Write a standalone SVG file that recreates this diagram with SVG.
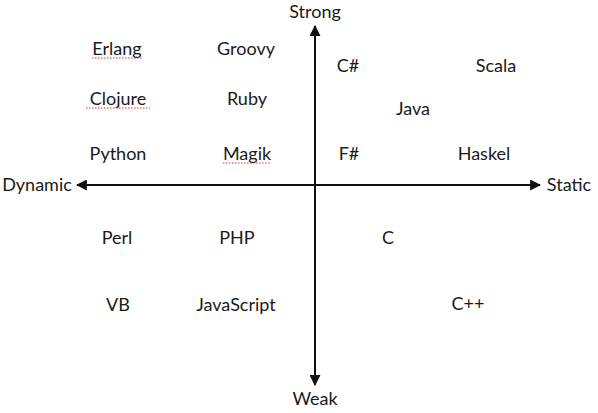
<svg xmlns="http://www.w3.org/2000/svg" width="598" height="413" viewBox="0 0 598 413">
  <style>
    text { font-family: "Lato", "Open Sans", sans-serif; font-size: 18px; fill: #1a1a1a; text-anchor: middle; }
    .axis { stroke: #111; stroke-width: 2; fill: none; }
    .spell { stroke: #e03030; stroke-width: 1.2; stroke-dasharray: 1.5 1.5; fill: none; }
  </style>
  <defs>
    <marker id="arrow" viewBox="0 0 10 10" refX="9" refY="5" markerWidth="5.5" markerHeight="5.5" orient="auto">
      <path d="M0,0 L10,5 L0,10 z" fill="#111"/>
    </marker>
  </defs>
  <rect width="598" height="413" fill="#fff"/>

  <!-- axes -->
  <g id="connectors">
    <line class="axis" x1="315" y1="185" x2="315" y2="26" marker-end="url(#arrow)"/>
    <line class="axis" x1="315" y1="185" x2="315" y2="385" marker-end="url(#arrow)"/>
    <line class="axis" x1="315" y1="185" x2="77" y2="185" marker-end="url(#arrow)"/>
    <line class="axis" x1="315" y1="185" x2="540" y2="185" marker-end="url(#arrow)"/>
  </g>

  <!-- axis labels -->
  <g id="strong"><text x="315" y="18">Strong</text></g>
  <g id="weak"><text x="315" y="405">Weak</text></g>
  <g id="dynamic"><text x="37" y="191">Dynamic</text></g>
  <g id="static"><text x="569" y="191">Static</text></g>

  <!-- dynamic / strong -->
  <g id="erlang"><text x="117" y="55">Erlang</text><line class="spell" x1="92" y1="58" x2="143" y2="58"/></g>
  <g id="groovy"><text x="246" y="55">Groovy</text></g>
  <g id="clojure"><text x="118" y="105">Clojure</text><line class="spell" x1="86" y1="108" x2="150" y2="108"/></g>
  <g id="ruby"><text x="247" y="105">Ruby</text></g>
  <g id="python"><text x="118" y="160">Python</text></g>
  <g id="magik"><text x="247" y="160">Magik</text><line class="spell" x1="223" y1="163" x2="271" y2="163"/></g>

  <!-- static / strong -->
  <g id="csharp"><text x="348" y="72">C#</text></g>
  <g id="scala"><text x="496" y="72">Scala</text></g>
  <g id="java"><text x="413" y="115">Java</text></g>
  <g id="fsharp"><text x="349" y="160">F#</text></g>
  <g id="haskel"><text x="484" y="160">Haskel</text></g>

  <!-- weak -->
  <g id="perl"><text x="117" y="244">Perl</text></g>
  <g id="php"><text x="237" y="244">PHP</text></g>
  <g id="c"><text x="388" y="244">C</text></g>
  <g id="vb"><text x="118" y="311">VB</text></g>
  <g id="javascript"><text x="236" y="311">JavaScript</text></g>
  <g id="cpp"><text x="468" y="310">C++</text></g>
</svg>
